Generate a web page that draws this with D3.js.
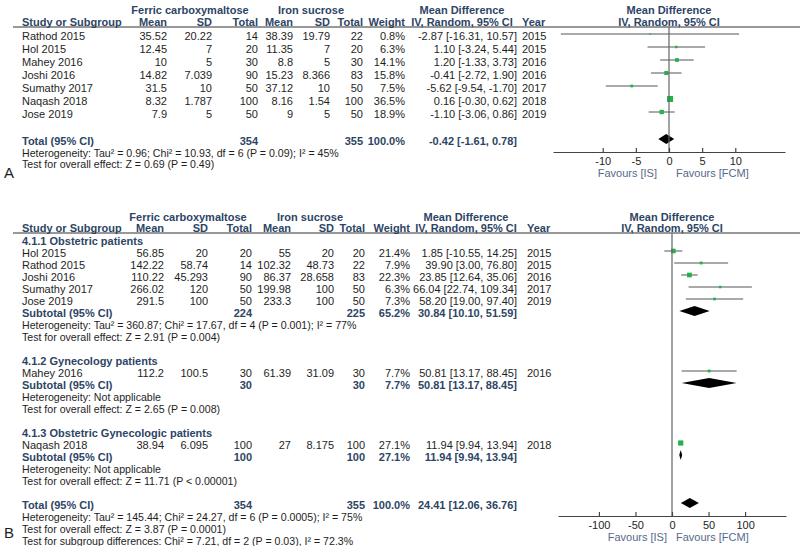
<!DOCTYPE html>
<html>
<head>
<meta charset="utf-8">
<script src="https://cdn.jsdelivr.net/npm/d3@7"></script>
<style>
  body { margin: 0; background: #fff; }
  svg { display: block; font-family: Arial, "Liberation Sans", sans-serif; }
</style>
</head>
<body>
<svg width="800" height="546"></svg>
<script>
// ---- panel A data ----
const studiesA = ["Rathod 2015", "Hol 2015", "Mahey 2016", "Joshi 2016", "Sumathy 2017", "Naqash 2018", "Jose 2019"];
const fcmMeanA = [35.52, 12.45, 10, 14.82, 31.5, 8.32, 7.9];
const fcmSdA = [20.22, 7, 5, 7.039, 10, 1.787, 5];
const fcmNA = [14, 20, 30, 90, 50, 100, 50];
const isMeanA = [38.39, 11.35, 8.8, 15.23, 37.12, 8.16, 9];
const isSdA = [19.79, 7, 5, 8.366, 10, 1.54, 5];
const isNA = [22, 20, 30, 83, 50, 100, 50];
const weightA = [0.8, 6.3, 14.1, 15.8, 7.5, 36.5, 18.9];
const mdA = [-2.87, 1.10, 1.20, -0.41, -5.62, 0.16, -1.10];
const lowA = [-16.31, -3.24, -1.33, -2.72, -9.54, -0.30, -3.06];
const highA = [10.57, 5.44, 3.73, 1.90, -1.70, 0.62, 0.86];
const yearA = [2015, 2015, 2016, 2016, 2017, 2018, 2019];
const totalNA = [354, 355];
const totalEffA = [-0.42, -1.61, 0.78];
const totalTextA = [
  "Heterogeneity: Tau\u00b2 = 0.96; Chi\u00b2 = 10.93, df = 6 (P = 0.09); I\u00b2 = 45%",
  "Test for overall effect: Z = 0.69 (P = 0.49)"
];
const ticksA = [-10, -5, 0, 5, 10];

// ---- panel B data ----
const subgroupNamesB = ["4.1.1 Obstetric patients", "4.1.2 Gynecology patients", "4.1.3 Obstetric Gynecologic patients"];
const studiesB = ["Hol 2015", "Rathod 2015", "Joshi 2016", "Sumathy 2017", "Jose 2019", "Mahey 2016", "Naqash 2018"];
const groupB = [0, 0, 0, 0, 0, 1, 2];
const fcmMeanB = [56.85, 142.22, 110.22, 266.02, 291.5, 112.2, 38.94];
const fcmSdB = [20, 58.74, 45.293, 120, 100, 100.5, 6.095];
const fcmNB = [20, 14, 90, 50, 50, 30, 100];
const isMeanB = [55, 102.32, 86.37, 199.98, 233.3, 61.39, 27];
const isSdB = [20, 48.73, 28.658, 100, 100, 31.09, 8.175];
const isNB = [20, 22, 83, 50, 50, 30, 100];
const weightB = [21.4, 7.9, 22.3, 6.3, 7.3, 7.7, 27.1];
const mdB = [1.85, 39.90, 23.85, 66.04, 58.20, 50.81, 11.94];
const lowB = [-10.55, 3.00, 12.64, 22.74, 19.00, 13.17, 9.94];
const highB = [14.25, 76.80, 35.06, 109.34, 97.40, 88.45, 13.94];
const yearB = [2015, 2015, 2016, 2017, 2019, 2016, 2018];
const subFcmNB = [224, 30, 100];
const subIsNB = [225, 30, 100];
const subWeightB = [65.2, 7.7, 27.1];
const subMdB = [30.84, 50.81, 11.94];
const subLowB = [10.10, 13.17, 9.94];
const subHighB = [51.59, 88.45, 13.94];
const subHetB = [
  "Heterogeneity: Tau\u00b2 = 360.87; Chi\u00b2 = 17.67, df = 4 (P = 0.001); I\u00b2 = 77%",
  "Heterogeneity: Not applicable",
  "Heterogeneity: Not applicable"
];
const subTestB = [
  "Test for overall effect: Z = 2.91 (P = 0.004)",
  "Test for overall effect: Z = 2.65 (P = 0.008)",
  "Test for overall effect: Z = 11.71 (P < 0.00001)"
];
const totalNB = [354, 355];
const totalEffB = [24.41, 12.06, 36.76];
const totalTextB = [
  "Heterogeneity: Tau\u00b2 = 145.44; Chi\u00b2 = 24.27, df = 6 (P = 0.0005); I\u00b2 = 75%",
  "Test for overall effect: Z = 3.87 (P = 0.0001)",
  "Test for subgroup differences: Chi\u00b2 = 7.21, df = 2 (P = 0.03), I\u00b2 = 72.3%"
];
const ticksB = [-100, -50, 0, 50, 100];

// ---- drawing ----
let svg = d3.select("svg");
const slate = "#2d4565", ink = "#1e1e1e", green = "#22b24c", ciGrey = "#555", favGrey = "#56698a";

function txt(x, y, s, o) {
  o = o || {};
  return svg.append("text")
    .attr("x", x)
    .attr("y", y + 4)
    .attr("text-anchor", o.anchor || "start")
    .attr("fill", o.fill || ink)
    .style("font-size", (o.size || 11) + "px")
    .style("font-weight", o.bold ? "bold" : "normal")
    .text(s);
}
function note(y, s) {
  return txt(22, y, s, {size: 10.6});
}
function ciText(m, l, h) {
  return m.toFixed(2) + " [" + l.toFixed(2) + ", " + h.toFixed(2) + "]";
}

function header(y1, y2, ruleY, c, x0) {
  txt(c.fcmHead, y1, "Ferric carboxymaltose", {anchor: "middle", bold: true, fill: slate});
  txt(c.isHead, y1, "Iron sucrose", {anchor: "middle", bold: true, fill: slate});
  txt(c.mdHead, y1, "Mean Difference", {anchor: "middle", bold: true, fill: slate});
  txt(x0, y1, "Mean Difference", {anchor: "middle", bold: true, fill: slate});
  txt(22, y2, "Study or Subgroup", {bold: true, fill: slate});
  txt(c.m1, y2, "Mean", {anchor: "end", bold: true, fill: slate});
  txt(c.s1, y2, "SD", {anchor: "end", bold: true, fill: slate});
  txt(c.n1, y2, "Total", {anchor: "end", bold: true, fill: slate});
  txt(c.m2, y2, "Mean", {anchor: "end", bold: true, fill: slate});
  txt(c.s2, y2, "SD", {anchor: "end", bold: true, fill: slate});
  txt(c.n2, y2, "Total", {anchor: "end", bold: true, fill: slate});
  txt(c.w, y2, "Weight", {anchor: "end", bold: true, fill: slate});
  txt(c.mdHead, y2, "IV, Random, 95% CI", {anchor: "middle", bold: true, fill: slate});
  txt(c.year, y2, "Year", {bold: true, fill: slate});
  txt(x0, y2, "IV, Random, 95% CI", {anchor: "middle", bold: true, fill: slate});
  svg.append("line").attr("x1", 13).attr("x2", 800).attr("y1", ruleY).attr("y2", ruleY)
    .attr("stroke", "#333").attr("stroke-width", 1.2);
}

function studyRow(y, c, x, d) {
  txt(22, y, d.name);
  txt(c.m1, y, String(d.m1), {anchor: "end"});
  txt(c.s1, y, String(d.s1), {anchor: "end"});
  txt(c.n1, y, String(d.n1), {anchor: "end"});
  txt(c.m2, y, String(d.m2), {anchor: "end"});
  txt(c.s2, y, String(d.s2), {anchor: "end"});
  txt(c.n2, y, String(d.n2), {anchor: "end"});
  txt(c.w, y, d.w.toFixed(1) + "%", {anchor: "end"});
  txt(c.ci, y, ciText(d.md, d.lo, d.hi), {anchor: "end"});
  txt(c.year, y, String(d.year));
  let my = y - 2;
  svg.append("line").attr("x1", x(d.lo)).attr("x2", x(d.hi)).attr("y1", my).attr("y2", my)
    .attr("stroke", ciGrey).attr("stroke-width", 1);
  let s = Math.max(1.6, Math.sqrt(d.w));
  svg.append("rect").attr("x", x(d.md) - s / 2).attr("y", my - s / 2)
    .attr("width", s).attr("height", s).attr("fill", green);
}

function totalRow(y, c, x, label, n1, n2, w, m, l, h) {
  txt(22, y, label, {bold: true, fill: slate});
  txt(c.n1, y, String(n1), {anchor: "end", bold: true, fill: slate});
  txt(c.n2, y, String(n2), {anchor: "end", bold: true, fill: slate});
  txt(c.w, y, w.toFixed(1) + "%", {anchor: "end", bold: true, fill: slate});
  txt(c.ci, y, ciText(m, l, h), {anchor: "end", bold: true, fill: slate});
  let my = y - 2;
  svg.append("path")
    .attr("d", "M" + x(l) + "," + my + "L" + x(m) + "," + (my - 5) + "L" + x(h) + "," + my + "L" + x(m) + "," + (my + 5) + "Z")
    .attr("fill", "#000");
}

function axisBlock(x, axisY, topY, ticks, favIS, favFCM) {
  svg.append("line").attr("x1", x(0)).attr("x2", x(0)).attr("y1", topY).attr("y2", axisY)
    .attr("stroke", "#666").attr("stroke-width", 1.2);
  let ax = d3.axisBottom(x).tickValues(ticks).tickFormat(d => String(d))
    .tickSizeInner(-4).tickSizeOuter(0).tickPadding(5);
  let g = svg.append("g").attr("transform", "translate(0," + axisY + ")").call(ax);
  g.select(".domain").attr("stroke", "#444").attr("stroke-width", 1.2);
  g.selectAll(".tick line").attr("stroke", "#444").attr("stroke-width", 1.2);
  g.selectAll(".tick text").attr("fill", ink).style("font-size", "11px")
    .style("font-family", "Arial, 'Liberation Sans', sans-serif");
  txt(favIS, axisY + 21, "Favours [IS]", {anchor: "end", fill: favGrey});
  txt(favFCM, axisY + 21, "Favours [FCM]", {fill: favGrey});
}

// ---- panel A ----
let xA = d3.scaleLinear().domain([-17.5, 17.5]).range([553, 785]);
let colsA = {fcmHead: 190, isHead: 311, mdHead: 462, m1: 167, s1: 212, n1: 258, m2: 293, s2: 330, n2: 363, w: 405, ci: 517, year: 522};
header(10, 22, 27, colsA, xA(0));
let rowYA = [36, 49, 62, 75, 88, 101, 114];
studiesA.forEach((s, i) => {
  studyRow(rowYA[i], colsA, xA, {name: s, m1: fcmMeanA[i], s1: fcmSdA[i], n1: fcmNA[i], m2: isMeanA[i], s2: isSdA[i], n2: isNA[i],
    w: weightA[i], md: mdA[i], lo: lowA[i], hi: highA[i], year: yearA[i]});
});
totalRow(141, colsA, xA, "Total (95% CI)", totalNA[0], totalNA[1], 100, totalEffA[0], totalEffA[1], totalEffA[2]);
note(153, totalTextA[0]);
note(164, totalTextA[1]);
txt(4, 174, "A", {size: 15});
axisBlock(xA, 152, 27, ticksA, 657, 676);

// ---- panel B ----
let xB = d3.scaleLinear().domain([-156, 156]).range([558, 786]);
let colsB = {fcmHead: 188, isHead: 310, mdHead: 466, m1: 164, s1: 208, n1: 252, m2: 291, s2: 334, n2: 365, w: 410, ci: 517, year: 527};
header(217, 228, 233, colsB, xB(0));
let groupLayout = [
  {title: 241, rows: [253, 265, 277, 289, 301], sub: 313, het: 325, test: 337},
  {title: 361, rows: [373], sub: 385, het: 397, test: 409},
  {title: 433, rows: [445], sub: 457, het: 469, test: 481}
];
subgroupNamesB.forEach((name, g) => {
  let L = groupLayout[g];
  txt(22, L.title, name, {bold: true, fill: slate});
  let idx = d3.range(studiesB.length).filter(i => groupB[i] === g);
  idx.forEach((i, k) => {
    studyRow(L.rows[k], colsB, xB, {name: studiesB[i], m1: fcmMeanB[i], s1: fcmSdB[i], n1: fcmNB[i], m2: isMeanB[i], s2: isSdB[i], n2: isNB[i],
      w: weightB[i], md: mdB[i], lo: lowB[i], hi: highB[i], year: yearB[i]});
  });
  totalRow(L.sub, colsB, xB, "Subtotal (95% CI)", subFcmNB[g], subIsNB[g], subWeightB[g], subMdB[g], subLowB[g], subHighB[g]);
  note(L.het, subHetB[g]);
  note(L.test, subTestB[g]);
});
totalRow(505, colsB, xB, "Total (95% CI)", totalNB[0], totalNB[1], 100, totalEffB[0], totalEffB[1], totalEffB[2]);
note(517, totalTextB[0]);
note(529, totalTextB[1]);
note(541, totalTextB[2]);
txt(4, 534, "B", {size: 15});
axisBlock(xB, 516, 233, ticksB, 667, 676);
</script>
</body>
</html>
